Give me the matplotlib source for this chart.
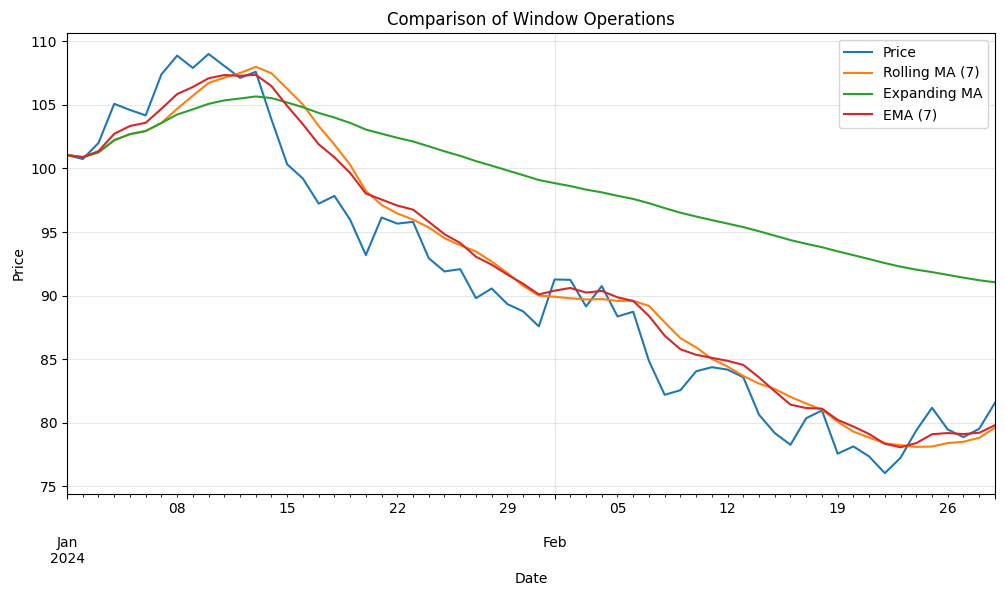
import numpy as np
import pandas as pd
import matplotlib
matplotlib.use("Agg")
import matplotlib.pyplot as plt

# daily prices, 2024-01-01 .. 2024-02-29
start_date = "2024-01-01"
price = [
    101.05, 100.74, 102.0, 105.08, 104.6, 104.17, 107.39, 108.87, 107.9, 109.0,
    108.06, 107.12, 107.6, 103.85, 100.32, 99.2, 97.23, 97.84, 95.97, 93.19,
    96.14, 95.66, 95.8, 92.94, 91.9, 92.08, 89.8, 90.56, 89.33, 88.76,
    87.58, 91.27, 91.24, 89.15, 90.75, 88.36, 88.73, 84.86, 82.2, 82.56,
    84.05, 84.37, 84.18, 83.58, 80.63, 79.19, 78.27, 80.36, 80.97, 77.57,
    78.14, 77.35, 76.04, 77.25, 79.4, 81.18, 79.47, 78.87, 79.53, 81.57,
]
window = 7

dates = pd.date_range(start_date, periods=len(price), freq="D")
s = pd.Series(price, index=dates)

df = pd.DataFrame({
    "Price": s,
    f"Rolling MA ({window})": s.rolling(window, min_periods=1).mean(),
    "Expanding MA": s.expanding().mean(),
    f"EMA ({window})": s.ewm(span=window).mean(),
})

fig, ax = plt.subplots(figsize=(10.05, 5.96), dpi=100)
df.plot(ax=ax)
ax.set_title("Comparison of Window Operations")
ax.set_xlabel("Date")
ax.set_ylabel("Price")
ax.grid(True, alpha=0.3)
ax.legend(loc="upper right")
fig.subplots_adjust(left=0.0667, right=0.990, top=0.9446, bottom=0.171)
plt.savefig("out.png")
